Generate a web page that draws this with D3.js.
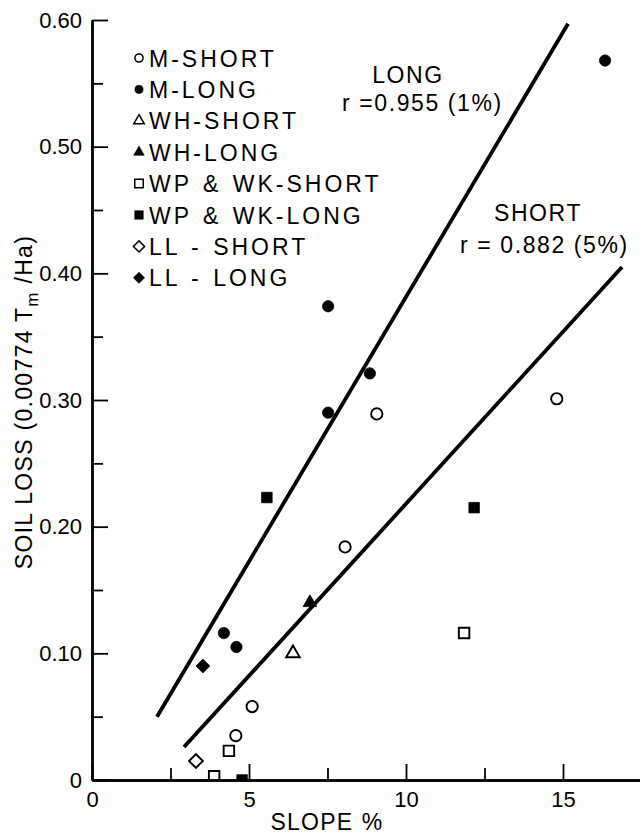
<!DOCTYPE html>
<html>
<head>
<meta charset="utf-8">
<script src="https://cdn.jsdelivr.net/npm/d3@7"></script>
<style>
  html, body { margin: 0; padding: 0; background: #fff; }
  svg { display: block; font-family: "Liberation Sans", Arial, sans-serif; }
</style>
</head>
<body>
<svg id="chart" width="640" height="835"></svg>
<script>
// ---- data ----
const categories = ["M-SHORT", "M-LONG", "WH-SHORT", "WH-LONG", "WP & WK-SHORT", "WP & WK-LONG", "LL - SHORT", "LL - LONG"];
const mShortX  = [4.58, 5.10, 8.06, 9.07, 14.8];
const mShortY  = [0.035, 0.058, 0.184, 0.289, 0.301];
const mLongX   = [4.20, 4.60, 7.52, 7.52, 8.85, 16.34];
const mLongY   = [0.116, 0.105, 0.290, 0.374, 0.321, 0.568];
const whShortX = [6.40];
const whShortY = [0.100];
const whLongX  = [6.94];
const whLongY  = [0.140];
const wpShortX = [3.89, 4.36, 11.85];
const wpShortY = [0.003, 0.023, 0.116];
const wpLongX  = [4.78, 5.57, 12.17];
const wpLongY  = [0.000, 0.223, 0.215];
const llShortX = [3.31];
const llShortY = [0.015];
const llLongX  = [3.53];
const llLongY  = [0.090];

const longLineX  = [2.07, 15.16];
const longLineY  = [0.050, 0.597];
const shortLineX = [2.93, 16.88];
const shortLineY = [0.026, 0.405];

const xMajorTicks = [0, 5, 10, 15];
const xMajorLabels = ["0", "5", "10", "15"];
const xMinorTicks = [2.5, 7.5, 12.5, 17.5];
const yMajorTicks = [0, 0.1, 0.2, 0.3, 0.4, 0.5, 0.6];
const yMajorLabels = ["0", "0.10", "0.20", "0.30", "0.40", "0.50", "0.60"];
const yMinorTicks = [0.05, 0.15, 0.25, 0.35, 0.45, 0.55];

// ---- series table built from the arrays ----
const shapes = ["circle", "circle", "triangle", "triangle", "square", "square", "diamond", "diamond"];
const filled = [false, true, false, true, false, true, false, true];
const xs = [mShortX, mLongX, whShortX, whLongX, wpShortX, wpLongX, llShortX, llLongX];
const ys = [mShortY, mLongY, whShortY, whLongY, wpShortY, wpLongY, llShortY, llLongY];
const series = categories.map((c, i) => ({
  name: c, shape: shapes[i], filled: filled[i],
  points: xs[i].map((x, j) => ({x: x, y: ys[i][j]}))
}));

// ---- layout ----
const svg = d3.select("#chart");
const x = d3.scaleLinear().domain([0, 17.5]).range([92, 641.5]);
const y = d3.scaleLinear().domain([0, 0.6]).range([780, 20]);

function symbolPath(shape, big) {
  if (shape === "circle") return d3.symbol(d3.symbolCircle, big ? 100 : 52)();
  if (shape === "triangle") return d3.symbol(d3.symbolTriangle, big ? 80 : 48)();
  if (shape === "square") return d3.symbol(d3.symbolSquare, big ? 110 : 72)();
  return d3.symbol(d3.symbolSquare, big ? 95 : 62)();
}
function symbolRot(shape) { return shape === "diamond" ? " rotate(45)" : ""; }

// clip for markers (axis bottom)
svg.append("defs").append("clipPath").attr("id", "plotclip")
  .append("rect").attr("x", 92).attr("y", 0).attr("width", 560).attr("height", 781);

// regression lines
const lineGen = d3.line().x(d => x(d[0])).y(d => y(d[1]));
[[longLineX, longLineY], [shortLineX, shortLineY]].forEach(([lx, ly]) => {
  svg.append("path")
    .attr("d", lineGen(lx.map((v, i) => [v, ly[i]])))
    .attr("fill", "none").attr("stroke", "#000").attr("stroke-width", 3.8);
});

// markers
const mg = svg.append("g").attr("clip-path", "url(#plotclip)");
series.forEach(s => {
  mg.selectAll(null).data(s.points).enter().append("path")
    .attr("d", symbolPath(s.shape, true))
    .attr("transform", d => `translate(${x(d.x)},${y(d.y)})` + symbolRot(s.shape))
    .attr("fill", s.filled ? "#000" : "#fff")
    .attr("stroke", "#000").attr("stroke-width", s.filled ? 0.8 : 1.9);
});

// axes
const yMinor = d3.axisLeft(y).tickValues(yMinorTicks).tickSizeInner(-11).tickSizeOuter(0).tickFormat("");
const yMajor = d3.axisLeft(y).tickValues(yMajorTicks).tickSizeInner(-16).tickSizeOuter(0).tickPadding(10)
  .tickFormat((d, i) => yMajorLabels[i]);
const xMinor = d3.axisBottom(x).tickValues(xMinorTicks).tickSizeInner(-12).tickSizeOuter(0).tickFormat("");
const xMajor = d3.axisBottom(x).tickValues(xMajorTicks).tickSizeInner(-16).tickSizeOuter(0).tickPadding(11)
  .tickFormat((d, i) => xMajorLabels[i]);

function styleAxis(g) {
  g.select(".domain").attr("stroke-width", 2.4).attr("stroke", "#000");
  g.selectAll(".tick line").attr("stroke-width", 1.8).attr("stroke", "#000");
  g.selectAll(".tick text").attr("font-size", 22).attr("fill", "#000")
    .attr("font-family", "'Liberation Sans', Arial, sans-serif");
}
svg.append("g").attr("transform", "translate(92,0)").call(yMinor).call(styleAxis);
svg.append("g").attr("transform", "translate(92,0)").call(yMajor).call(styleAxis);
svg.append("g").attr("transform", "translate(0,780)").call(xMinor).call(styleAxis);
svg.append("g").attr("transform", "translate(0,780)").call(xMajor).call(styleAxis);

// axis titles
svg.append("text")
  .attr("x", 327).attr("y", 830).attr("text-anchor", "middle")
  .attr("font-size", 23).attr("letter-spacing", 1.2).attr("word-spacing", 1)
  .text("SLOPE %");

const yl = svg.append("text")
  .attr("transform", "translate(32,402) rotate(-90)")
  .attr("text-anchor", "middle")
  .attr("font-size", 23).attr("letter-spacing", 1.3);
yl.append("tspan").text("SOIL LOSS (0.00774 T");
yl.append("tspan").attr("font-size", 17).attr("dy", 6).text("m");
yl.append("tspan").attr("dy", -6).text(" /Ha)");

// legend
const lg = svg.append("g");
series.forEach((s, i) => {
  const cy = 58 + i * 31.4;
  lg.append("path")
    .attr("d", symbolPath(s.shape, false))
    .attr("transform", `translate(139,${cy})` + symbolRot(s.shape))
    .attr("fill", s.filled ? "#000" : "#fff")
    .attr("stroke", "#000").attr("stroke-width", s.filled ? 0.6 : 1.5);
  lg.append("text")
    .attr("x", 149).attr("y", cy + 8.5)
    .attr("font-size", 23).attr("letter-spacing", 3).attr("word-spacing", 2)
    .text(s.name);
});

// annotations
function ann(txt, xx, yy, anchor) {
  svg.append("text").attr("x", xx).attr("y", yy).attr("text-anchor", anchor)
    .attr("font-size", 23).attr("letter-spacing", 1.6).text(txt);
}
ann("LONG", 408, 83, "middle");
ann("r =0.955 (1%)", 342, 111, "start");
ann("SHORT", 538, 221, "middle");
ann("r = 0.882 (5%)", 460, 253, "start");
</script>
</body>
</html>
